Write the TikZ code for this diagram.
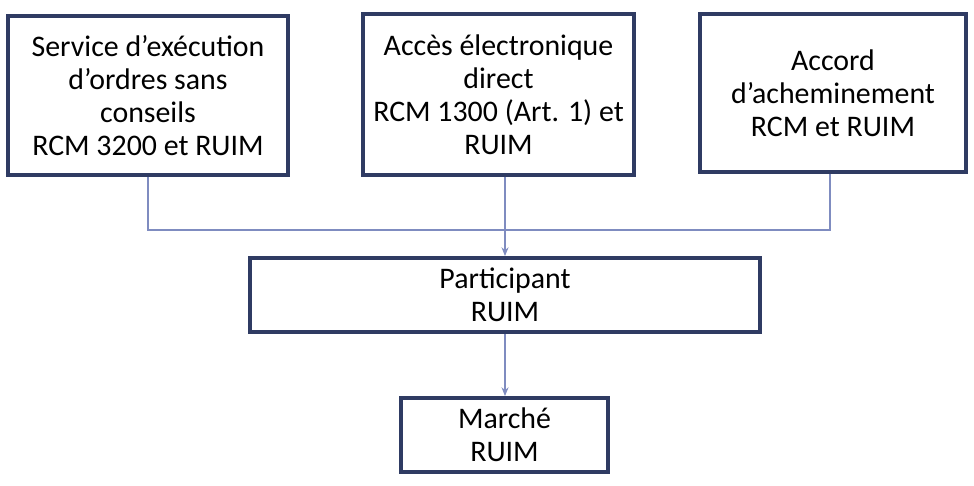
\documentclass[tikz,border=0pt]{standalone}
\usepackage{fontspec}
\setmainfont{Carlito}
\usetikzlibrary{arrows.meta}
\definecolor{bord}{HTML}{2F3B63}
\definecolor{conn}{HTML}{7F8CC0}
\begin{document}
\begin{tikzpicture}[x=0.02cm,y=-0.02cm,
  boxs/.style={draw=bord,line width=2.2pt,align=center,font=\fontsize{17}{18.8}\selectfont,inner sep=0pt},
  conns/.style={draw=conn,line width=0.6pt},
  arr/.style={conns,-{Stealth[length=5pt,width=4pt]}}]
\useasboundingbox (0,0) rectangle (974,485);
\node[boxs,minimum width=280*0.02cm,minimum height=159*0.02cm] (a) at (148,95.5) {Service d’exécution\\d’ordres sans\\conseils\\RCM 3200 et RUIM};
\node[boxs,minimum width=271*0.02cm,minimum height=161*0.02cm] (b) at (498.5,94.5) {Accès électronique\\direct\\RCM 1300 (Art. 1) et\\RUIM};
\node[boxs,minimum width=266*0.02cm,minimum height=158*0.02cm] (c) at (833,93) {Accord\\d’acheminement\\RCM et RUIM};
\node[boxs,minimum width=510*0.02cm,minimum height=74*0.02cm] (p) at (505,295) {Participant\\RUIM};
\node[boxs,minimum width=207*0.02cm,minimum height=74*0.02cm] (m) at (504.5,435) {Marché\\RUIM};
\coordinate (j1) at (148,230);
\coordinate (j3) at (830,230);
\draw[conns] (a.south) -- (j1) -- (j3) -- (j3 |- c.south);
\draw[arr] (b.south -| p.north) -- (p.north);
\draw[arr] (p.south) -- (p.south |- m.north);
\end{tikzpicture}
\end{document}
